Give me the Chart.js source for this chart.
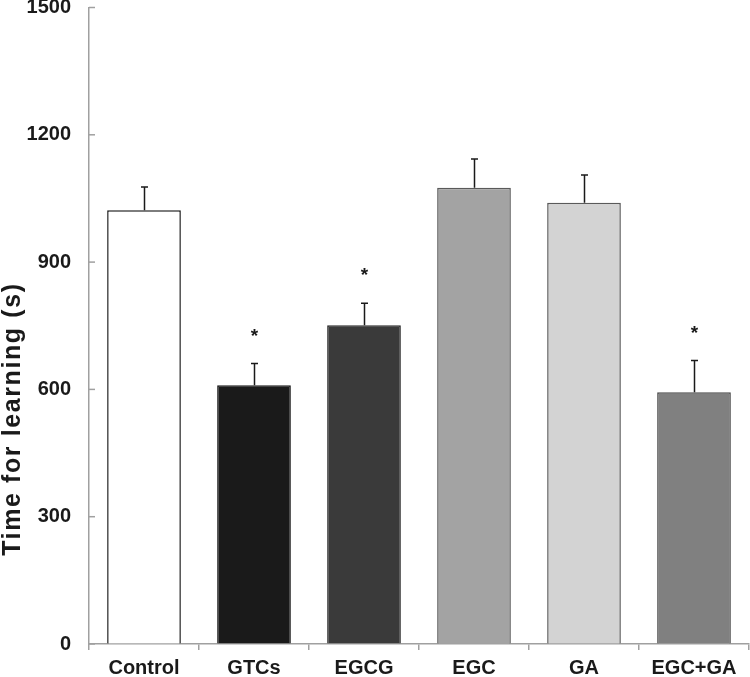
<!DOCTYPE html>
<html>
<head>
<meta charset="utf-8">
<script src="https://cdn.jsdelivr.net/npm/chart.js@4"></script>
<style>
html,body{margin:0;padding:0;background:#fff;}
#wrap{width:750px;height:677px;position:relative;}
</style>
</head>
<body>
<div id="wrap"><canvas id="c"></canvas></div>
<script>
const categories = ["Control", "GTCs", "EGCG", "EGC", "GA", "EGC+GA"];
const means = [1022, 610, 751, 1075, 1040, 593];
const errors = [55, 51, 52, 68, 65, 75];
const significant = [false, true, true, false, false, true];
const barColors = ["#ffffff", "#1a1a1a", "#3a3a3a", "#a3a3a3", "#d3d3d3", "#808080"];
const borderColors = ["#1a1a1a", "#1a1a1a", "#2a2a2a", "#5a5a5a", "#5a5a5a", "#4a4a4a"];
const yTicks = [0, 300, 600, 900, 1200, 1500];
const yTitle = "Time for learning (s)";

const FONT = "'Liberation Sans', Arial, Helvetica, sans-serif";

const extras = {
  id: 'extras',
  afterDatasetsDraw(chart) {
    const ctx = chart.ctx;
    const y = chart.scales.y;
    const meta = chart.getDatasetMeta(0);
    ctx.save();
    // error bars
    ctx.strokeStyle = '#1a1a1a';
    ctx.lineWidth = 1.5;
    meta.data.forEach((bar, i) => {
      const x = Math.round(bar.x) + 0.5;
      const yTop = y.getPixelForValue(means[i] + errors[i]);
      const yBar = y.getPixelForValue(means[i]);
      ctx.beginPath();
      ctx.moveTo(x, yBar);
      ctx.lineTo(x, yTop);
      ctx.moveTo(x - 3.5, yTop);
      ctx.lineTo(x + 3.5, yTop);
      ctx.stroke();
      if (significant[i]) {
        ctx.fillStyle = '#1a1a1a';
        ctx.font = "bold 19px " + FONT;
        ctx.textAlign = 'center';
        ctx.textBaseline = 'alphabetic';
        ctx.fillText('*', x, yTop - 33 + 11);
      }
    });
    // inward y ticks
    ctx.strokeStyle = '#a0a0a0';
    ctx.lineWidth = 1.5;
    const left = chart.chartArea.left;
    yTicks.forEach(v => {
      const py = y.getPixelForValue(v);
      ctx.beginPath();
      ctx.moveTo(left, py);
      ctx.lineTo(left + 6, py);
      ctx.stroke();
    });
    // y axis title
    const cy = y.getPixelForValue(530);
    ctx.translate(13, cy);
    ctx.rotate(-Math.PI / 2);
    ctx.fillStyle = '#1a1a1a';
    ctx.font = "bold 25px " + FONT;
    try { ctx.letterSpacing = '1.6px'; } catch (e) {}
    ctx.textAlign = 'center';
    ctx.textBaseline = 'middle';
    ctx.fillText(yTitle, 0, 0);
    ctx.restore();
  }
};

new Chart(document.getElementById('c'), {
  type: 'bar',
  data: {
    labels: categories,
    datasets: [{
      data: means,
      backgroundColor: barColors,
      borderColor: borderColors,
      borderWidth: 1.5,
      borderSkipped: 'bottom',
      categoryPercentage: 1.0,
      barPercentage: 0.67
    }]
  },
  options: {
    responsive: true,
    maintainAspectRatio: false,
    animation: false,
    devicePixelRatio: 1,
    layout: { padding: { top: 7.5, right: 1, bottom: 0, left: 0 } },
    plugins: { legend: { display: false }, tooltip: { enabled: false } },
    scales: {
      x: {
        offset: true,
        grid: {
          display: true,
          offset: true,
          drawOnChartArea: false,
          drawTicks: true,
          tickLength: 6,
          color: '#a0a0a0',
          lineWidth: 1.5
        },
        border: { display: true, color: '#a0a0a0', width: 1.5 },
        ticks: {
          color: '#1a1a1a',
          font: { family: FONT, size: 20, weight: 'bold', lineHeight: 1 },
          padding: 8,
          maxRotation: 0,
          autoSkip: false
        },
        afterFit(scale) { scale.height = 33; scale.paddingLeft = 0; scale.paddingRight = 0; }
      },
      y: {
        min: 0,
        max: 1500,
        afterBuildTicks(scale) { scale.ticks = yTicks.map(v => ({ value: v })); },
        grid: { display: true, drawOnChartArea: false, drawTicks: false },
        border: { display: true, color: '#a0a0a0', width: 1.5 },
        ticks: {
          color: '#1a1a1a',
          font: { family: FONT, size: 20, weight: 'bold' },
          padding: 18,
          callback: (v) => String(v)
        },
        title: { display: false },
        afterFit(scale) { scale.width = 89; scale.paddingTop = 0; scale.paddingBottom = 0; }
      }
    }
  },
  plugins: [extras]
});
</script>
</body>
</html>
